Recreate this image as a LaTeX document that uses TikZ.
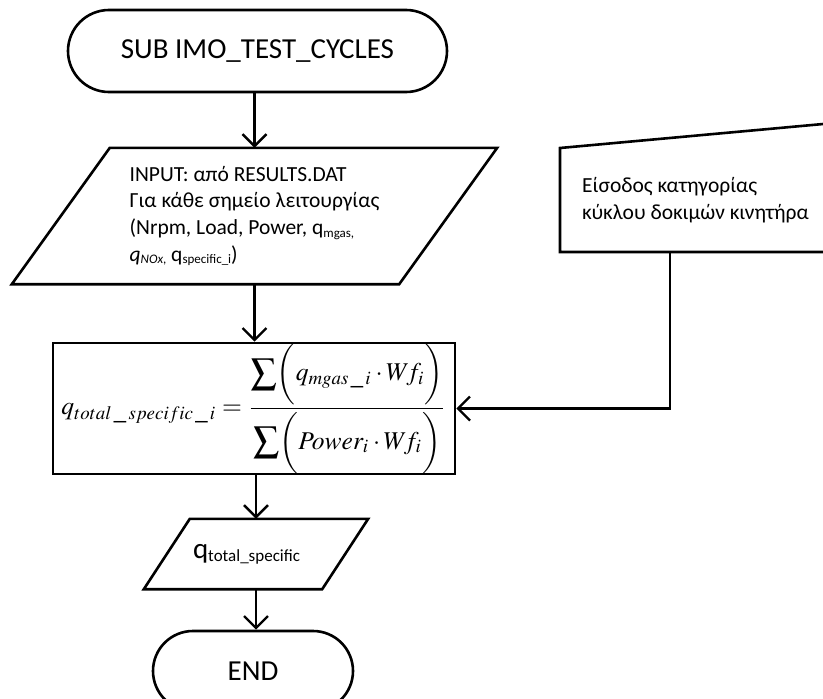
\documentclass[tikz,border=0pt]{standalone}
\usepackage{graphicx}
\usepackage{mathptmx}
\usepackage[no-math]{fontspec}
\setmainfont{Carlito}
\usetikzlibrary{arrows.meta,shapes.misc,calc}
\newcommand\sbs[1]{\raisebox{-2.5pt}{\fontsize{13}{13}\selectfont #1}}
\begin{document}
\begin{tikzpicture}[x=1pt,y=-1pt,
  ln/.style={line width=2.6pt},
  arr/.style={ln,-{Straight Barb[length=12pt,width=24pt,line width=2.4pt]}},
  term/.style={draw,ln,rounded rectangle,font=\fontsize{29}{35}\selectfont,inner sep=0pt},
  plain/.style={inner sep=0pt,draw=none},
  rectbox/.style={inner sep=0pt,draw,ln},
  txt/.style={font=\fontsize{21.5}{26.7}\selectfont,align=left}
]
\useasboundingbox (0,0) rectangle (823,699);
\clip (0,0) rectangle (823,699);

% start terminal
\node[term,minimum width=379pt,minimum height=82pt] (start) at (257.5,51) {SUB IMO\_TEST\_CYCLES};

% input parallelogram
\node[plain,txt,minimum width=289pt,minimum height=136pt] (in) at (254.5,216)
  {INPUT: από RESULTS.DAT\\Για κάθε σημείο λειτουργίας\\(Nrpm, Load, Power, q\sbs{mgas,}\\\textit{q}\sbs{\textit{NOx},}~q\sbs{specific\_i})};
\draw[ln,line join=miter] (in.north west) -- ($(in.north east)+(98,0)$) -- (in.south east) -- ($(in.south west)+(-98,0)$) -- cycle;

% calculation box
\node[rectbox,minimum width=402pt,minimum height=131pt] (calc) at (254,408.5)
  {\resizebox{385pt}{!}{$\displaystyle q_{total\,\_\,specific\,\_\,i}=\frac{\displaystyle\sum\biggl(q_{mgas\,\_\,i}\cdot W\!f_{i}\biggr)}{\displaystyle\sum\biggl(Power_{i}\cdot W\!f_{i}\biggr)}$}};

% output parallelogram
\node[plain,minimum width=132pt,minimum height=70pt,text width=126pt,align=left] (out) at (256,554)
  {\fontsize{29}{35}\selectfont q\raisebox{-3pt}{\fontsize{17}{17}\selectfont total\_specific}};
\draw[ln,line join=miter] (out.north west) -- ($(out.north east)+(46,0)$) -- (out.south east) -- ($(out.south west)+(-46,0)$) -- cycle;

% end terminal
\node[term,minimum width=200pt,minimum height=80pt] (end) at (253,671) {END};

% manual input
\node[plain,txt,anchor=west] (man) at (582,200) {Είσοδος κατηγορίας\\κύκλου δοκιμών κινητήρα};
\draw[ln,line join=miter] (560,148) -- (900,117) -- (900,252) -- (560,252) -- cycle;
\coordinate (mi) at (670,252);

% connectors
\draw[arr] (start.south -| in.north) -- (in.north);
\draw[arr] (in.south) -- (in.south |- calc.north);
\draw[arr] (calc.south -| out.north) -- (out.north);
\draw[arr] (out.south) -- (out.south |- end.north);
\draw[arr] (mi) |- (calc.east);
\end{tikzpicture}
\end{document}
